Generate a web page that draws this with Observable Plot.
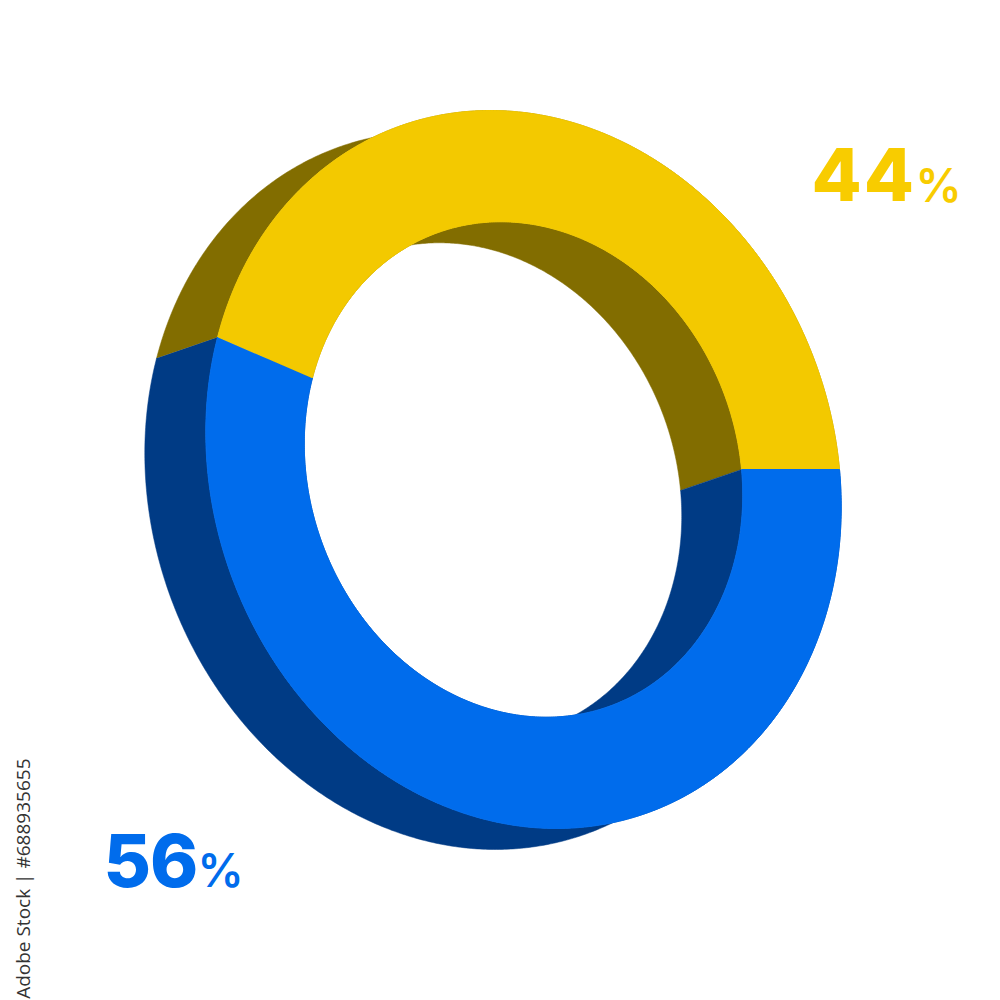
<!DOCTYPE html>
<html>
<head>
<meta charset="utf-8">
<script src="https://cdn.jsdelivr.net/npm/d3@7"></script>
<script src="https://cdn.jsdelivr.net/npm/@observablehq/plot@0.6"></script>
<style>
html,body{margin:0;padding:0;background:#fff}
svg{display:block}
.wide text{letter-spacing:2px}
.tight text{letter-spacing:-1px}
</style>
</head>
<body>
<div id="chart"></div>
<script>
// Data
const categories = ["44", "56"];
const shares = [44, 56];
const faceColors = ["#F3C900", "#006CEC"];
const wallColors = ["#826D00", "#003B85"];
const labelColors = ["#F8CC00", "#006CEC"];

// Ring geometry (the projected circle of the tilted, extruded donut)
const centre = [523, 469];
const axisX = [316, 33];
const axisY = 359;
const innerRatio = 0.69;
const depth = [-61, 21];

// The arc runs counter-clockwise on screen from 3 o'clock, through the top
const edge = (a0, a1, r, offset) => {
  const n = Math.max(2, Math.ceil((a1 - a0) * 720));
  return d3.range(n + 1).map(i => {
    const turn = a0 + (a1 - a0) * i / n;
    const t = turn * 2 * Math.PI;
    return {
      x: centre[0] + offset[0] + r * (axisX[0] * Math.cos(t) - axisX[1] * Math.sin(t)),
      y: centre[1] + offset[1] - r * axisY * Math.sin(t)
    };
  });
};

const total = d3.sum(shares);
let acc = 0;
const segments = categories.map((c, i) => {
  const a0 = acc / total;
  acc += shares[i];
  return {category: c, a0, a1: acc / total};
});

const none = [0, 0];
const ribbon = (id, a0, a1, r) =>
  [...edge(a0, a1, r, none), ...edge(a0, a1, r, depth).reverse()].map(p => ({...p, id}));
const band = (id, a0, a1) =>
  [...edge(a0, a1, 1, none), ...edge(a0, a1, innerRatio, none).reverse()].map(p => ({...p, id}));

const walls = segments.flatMap(s => [
  ...ribbon(s.category + " outer", s.a0, s.a1, 1).map(p => ({...p, category: s.category})),
  ...ribbon(s.category + " inner", s.a0, s.a1, innerRatio).map(p => ({...p, category: s.category}))
]);
const faces = segments.flatMap(s =>
  band(s.category, s.a0, s.a1).map(p => ({...p, category: s.category}))
);

const wallFill = d => wallColors[categories.indexOf(d.category)];
const faceFill = d => faceColors[categories.indexOf(d.category)];

const font = "Inter, 'Open Sans', sans-serif";
const bigText = {text: d => d, fontSize: 73, fontWeight: 800, fontFamily: font, textAnchor: "start"};
const pctText = {text: d => d, fontSize: 46, fontWeight: 600, fontFamily: font, textAnchor: "start"};
const credit = "Adobe Stock | #688935655";

const plot = Plot.plot({
  width: 1000,
  height: 1000,
  margin: 0,
  x: {domain: [0, 1000], range: [0, 1000], axis: null},
  y: {domain: [0, 1000], range: [0, 1000], axis: null},
  marks: [
    Plot.line(walls, {x: "x", y: "y", z: "id", fill: wallFill, stroke: wallFill, strokeWidth: 0.5, curve: "linear"}),
    Plot.line(faces, {x: "x", y: "y", z: "id", fill: faceFill, stroke: faceFill, strokeWidth: 1, curve: "linear"}),
    Plot.text([categories[0]], {...bigText, x: 811, y: 177, fill: labelColors[0], className: "wide"}),
    Plot.text([categories[1]], {...bigText, x: 103, y: 863, fill: labelColors[1], className: "tight"}),
    Plot.text(["%"], {...pctText, x: 915, y: 187, fill: labelColors[0]}),
    Plot.text(["%"], {...pctText, x: 197, y: 872, fill: labelColors[1]}),
    Plot.text([credit], {x: 23, y: 758, text: d => d, rotate: -90, textAnchor: "end", fontSize: 19, fill: "#333", fontFamily: "'Open Sans', sans-serif"})
  ]
});
document.getElementById("chart").append(plot);
</script>
</body>
</html>
